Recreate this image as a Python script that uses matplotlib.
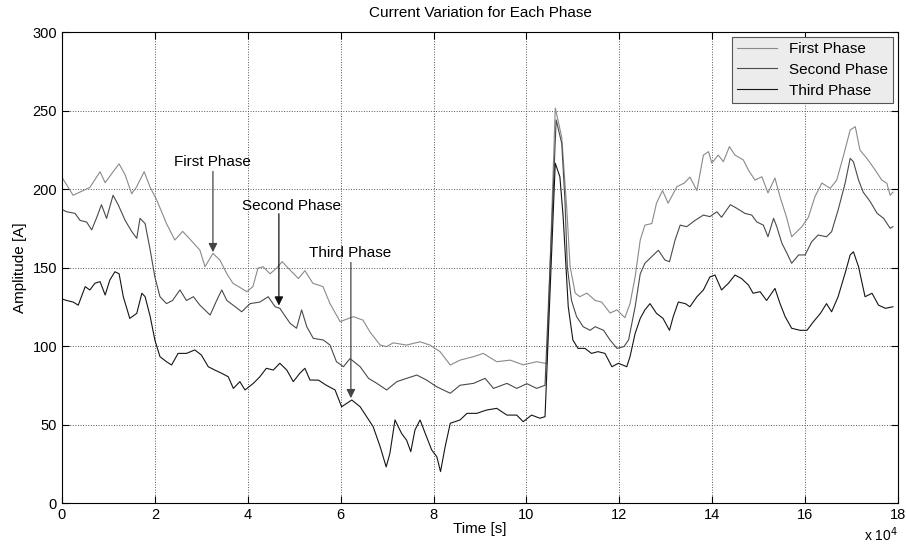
import matplotlib
matplotlib.use("Agg")
import matplotlib.pyplot as plt

plt.rcParams['font.family'] = ['Liberation Sans', 'DejaVu Sans']

# values, time in units of 1e4 s
t1 = [0.0, 0.24, 0.6, 0.82, 0.93, 1.1, 1.23, 1.36, 1.5, 1.6, 1.77, 1.9, 2.04, 2.25, 2.43, 2.6, 2.82, 2.97,
      3.08, 3.25, 3.4, 3.55, 3.68, 3.98, 4.11, 4.22, 4.33, 4.48, 4.62, 4.74, 4.91, 5.09, 5.23, 5.4, 5.62,
      5.77, 5.99, 6.27, 6.48, 6.63, 6.85, 6.99, 7.13, 7.42, 7.71, 7.92, 8.14, 8.36, 8.57, 8.86, 9.07, 9.36,
      9.65, 9.93, 10.22, 10.4, 10.44, 10.62, 10.76, 10.87, 10.94, 11.05, 11.15, 11.3, 11.48, 11.62, 11.8,
      11.95, 12.12, 12.23, 12.34, 12.45, 12.55, 12.7, 12.8, 12.93, 13.05, 13.24, 13.4, 13.52, 13.67, 13.81,
      13.92, 13.99, 14.13, 14.24, 14.37, 14.49, 14.67, 14.78, 14.92, 15.07, 15.2, 15.35, 15.46, 15.6, 15.71,
      15.82, 15.93, 16.07, 16.21, 16.36, 16.54, 16.68, 16.82, 16.97, 17.08, 17.18, 17.33, 17.51, 17.65,
      17.76, 17.83, 17.89]
first = [207.5, 196, 201, 211, 204, 211, 216, 209, 197, 201, 211, 201, 193, 178, 167.5, 173, 166, 161,
         150.5, 159, 154.8, 146, 140, 134.6, 137.8, 149.6, 150.5, 146, 149.6, 153.7, 148.4, 143, 148, 140, 137.8,
         127, 115.5, 118.7, 116.5, 109, 100.6, 99.6, 102, 100.6, 102.7, 100.6, 96.4, 87.9, 91, 93.2, 95.3, 90,
         91, 88, 90, 89, 89, 251.6, 233, 186.6, 150.5, 133.7, 131.4, 133.7, 129, 128, 121,
         123, 118, 127, 144, 167.5, 177, 178, 191, 199, 191, 201.5, 203.8, 207.6, 199, 221.6,
         223.8, 216.5, 221.6, 217.4, 227, 221.6, 218.5, 212, 205.7, 207.8, 197.5, 207, 195, 182, 169.6,
         172.8, 176, 182, 195, 203.8, 200.4, 205.7, 220.6, 237.6, 239.7, 224.8, 219.5, 212, 205.7,
         203.6, 196, 198]

t2 = [0.0, 0.1, 0.28, 0.39, 0.53, 0.64, 0.75, 0.85, 0.96, 1.1, 1.21, 1.36, 1.5, 1.61, 1.68, 1.79, 1.9, 2.0,
      2.11, 2.25, 2.38, 2.54, 2.68, 2.83, 2.97, 3.19, 3.33, 3.44, 3.55, 3.73, 3.87, 4.05, 4.26, 4.44, 4.59,
      4.69, 4.91, 5.05, 5.16, 5.27, 5.41, 5.63, 5.77, 5.91, 6.06, 6.2, 6.42, 6.6, 6.78, 6.99, 7.21, 7.42,
      7.64, 7.85, 8.07, 8.36, 8.57, 8.86, 9.11, 9.29, 9.58, 9.79, 10.01, 10.22, 10.4, 10.64, 10.76, 10.83,
      10.88, 10.97, 11.08, 11.22, 11.37, 11.48, 11.66, 11.8, 11.95, 12.1, 12.2, 12.34, 12.45, 12.55, 12.7,
      12.84, 12.98, 13.08, 13.2, 13.31, 13.45, 13.63, 13.81, 13.95, 14.1, 14.2, 14.39, 14.53, 14.7, 14.85,
      14.96, 15.1, 15.2, 15.32, 15.39, 15.5, 15.61, 15.71, 15.86, 16.0, 16.14, 16.28, 16.46, 16.57, 16.71,
      16.86, 16.97, 17.04, 17.15, 17.25, 17.4, 17.55, 17.69, 17.83, 17.89]
second = [187, 185.5, 184.5, 180, 179, 174, 182, 190, 181.3, 196, 190, 180, 173, 168.6, 181.3, 178, 161, 144,
          131.4, 127, 129, 135.7, 129, 131.4, 126, 119.7, 129, 135.7, 129, 125, 121.8, 127, 128, 131.4, 125,
          124, 114.5, 111.3, 123, 112.3, 104.9, 103.8, 100.6, 90, 86.8, 92, 86.8, 79.4, 76.2, 72, 77.3, 79.4,
          81.5, 78.3, 74, 69.9, 75, 76.2, 79.4, 73, 76.2, 73, 76, 73, 75, 244, 229, 192,
          150.5, 129, 118.7, 112.3, 110, 112.3, 110, 103.8, 98.5, 99.6, 104, 125, 146, 152.7, 157,
          161, 154.8, 153.7, 167.5, 177, 176, 180, 183.4, 182.4, 185.5, 182, 190, 187.7, 184.5, 183.4,
          179, 177, 169.6, 181.3, 176, 165.4, 159, 152.7, 158, 158, 166.4, 170.7, 169.6, 172.8, 186.6,
          203.6, 219.5, 217.4, 205.7, 198, 192, 184.5, 181.3, 175, 176]

t3 = [0.0, 0.1, 0.24, 0.35, 0.5, 0.6, 0.71, 0.82, 0.93, 1.03, 1.14, 1.23, 1.32, 1.46, 1.61, 1.72, 1.79, 1.9,
      2.0, 2.11, 2.25, 2.36, 2.5, 2.68, 2.86, 3.0, 3.15, 3.29, 3.44, 3.58, 3.69, 3.83, 3.94, 4.12, 4.26, 4.4,
      4.55, 4.69, 4.84, 4.98, 5.12, 5.23, 5.34, 5.52, 5.68, 5.88, 6.02, 6.24, 6.42, 6.56, 6.7, 6.85, 6.98,
      7.06, 7.17, 7.31, 7.42, 7.51, 7.6, 7.71, 7.82, 7.96, 8.07, 8.15, 8.25, 8.36, 8.57, 8.72, 8.93, 9.14,
      9.36, 9.58, 9.79, 9.93, 10.11, 10.29, 10.4, 10.62, 10.72, 10.79, 10.85, 10.9, 11.0, 11.11, 11.26, 11.4,
      11.54, 11.69, 11.84, 11.98, 12.16, 12.23, 12.34, 12.45, 12.55, 12.66, 12.8, 12.94, 13.08, 13.16, 13.27,
      13.42, 13.52, 13.67, 13.81, 13.95, 14.06, 14.2, 14.35, 14.49, 14.63, 14.78, 14.88, 15.03, 15.17, 15.35,
      15.46, 15.57, 15.71, 15.89, 16.04, 16.18, 16.33, 16.46, 16.57, 16.71, 16.86, 16.97, 17.04, 17.15,
      17.29, 17.44, 17.58, 17.73, 17.89]
third = [130, 129, 128, 126, 137.8, 135.7, 140, 141, 132.5, 142, 147.3, 146, 131.4, 117.6, 120.8, 133.6, 131.4, 118.7,
         103.8, 93.2, 90, 87.9, 95.3, 95.3, 97.5, 94.3, 86.8, 84.7, 82.6, 80.4, 73, 77.3, 72, 76.2, 80.4, 85.8,
         84.7, 89, 84.7, 77.3, 82.6, 85.8, 78.3, 78.3, 75.2, 72, 61.3, 65.6, 61.3, 55, 48.6, 35.9, 23,
         31.6, 52.9, 44.4, 40, 32.7, 46.5, 52.9, 44.4, 33.8, 29.5, 20, 35.9, 50.8, 52.9, 57.1, 57.1, 59.2,
         60.3, 56, 56, 51.8, 56, 54, 55, 216.4, 207.8, 182.4, 150.5, 125, 103.8, 98.5, 98.5, 95.3,
         96.4, 95.3, 86.8, 89, 86.8, 93.2, 108, 117.6, 123, 127, 120.8, 117.6, 110, 118.7, 128,
         127, 125, 131.4, 135.7, 144, 145.2, 135.7, 140, 145.2, 143, 138.8, 133.6, 134.6, 129, 136.7,
         127, 118.7, 111.3, 110, 110, 115.5, 120.8, 127, 121.8, 131.4, 146.3, 158, 160, 150.5,
         131.4, 133.6, 126, 124, 125]

names = ['First Phase', 'Second Phase', 'Third Phase']
colors = ['#8a8a8a', '#4a4a4a', '#151515']

fig = plt.figure(figsize=(9.06, 5.48), dpi=100)
ax = fig.add_axes([0.0684, 0.0821, 0.9228, 0.8595])

ax.plot(t1, first, color=colors[0], lw=0.8, label=names[0])
ax.plot(t2, second, color=colors[1], lw=0.8, label=names[1])
ax.plot(t3, third, color=colors[2], lw=0.8, label=names[2])

ax.set_xlim(0, 18)
ax.set_ylim(0, 300)
ax.set_xticks(range(0, 19, 2))
ax.set_yticks(range(0, 301, 50))
ax.grid(True, linestyle=':', color='#555555', linewidth=0.7)
ax.tick_params(direction='in', top=True, right=True, labelsize=10.5, length=5)
for s in ax.spines.values():
    s.set_linewidth(0.8)

ax.set_title('Current Variation for Each Phase', fontsize=11, pad=11)
ax.set_xlabel('Time [s]', fontsize=11, labelpad=0)
ax.set_ylabel('Amplitude [A]', fontsize=11, labelpad=4)
fig.text(0.972, 0.012, r'x 10$^4$', fontsize=10, ha='center')

# arrows with labels
ax.text(3.25, 213, 'First Phase', fontsize=11, ha='center', va='bottom')
ax.annotate('', xy=(3.25, 158), xytext=(3.25, 213),
            arrowprops=dict(arrowstyle='-|>', color='#444444', lw=0.9, mutation_scale=13))
ax.text(4.95, 185, 'Second Phase', fontsize=11, ha='center', va='bottom')
ax.annotate('', xy=(4.67, 124), xytext=(4.67, 186),
            arrowprops=dict(arrowstyle='-|>', color='#111111', lw=0.9, mutation_scale=13))
ax.text(6.2, 155, 'Third Phase', fontsize=11, ha='center', va='bottom')
ax.annotate('', xy=(6.22, 65), xytext=(6.22, 155),
            arrowprops=dict(arrowstyle='-|>', color='#444444', lw=0.9, mutation_scale=13))

leg = ax.legend(loc='upper right', fontsize=11, handlelength=2.6, borderpad=0.35,
                labelspacing=0.45, fancybox=False, framealpha=1, borderaxespad=0.3)
leg.get_frame().set_facecolor('#ececec')
leg.get_frame().set_edgecolor('#555555')
leg.get_frame().set_linewidth(0.8)

fig.savefig('out.png', dpi=100)
